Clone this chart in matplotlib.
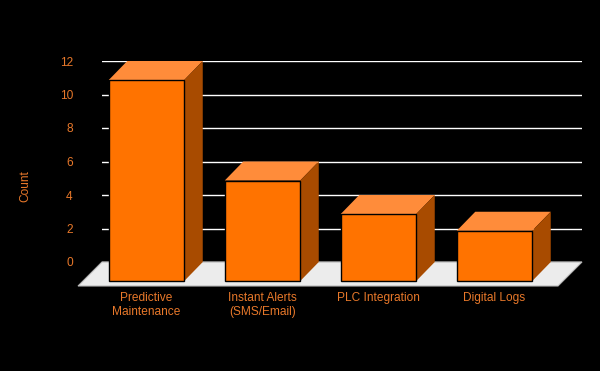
import matplotlib
matplotlib.use("Agg")
import matplotlib.pyplot as plt
from matplotlib.patches import Polygon, Rectangle

categories = ["Predictive\nMaintenance", "Instant Alerts\n(SMS/Email)", "PLC Integration", "Digital Logs"]
counts = [12, 6, 4, 3]
yticks = [0, 2, 4, 6, 8, 10, 12]

# colours
FRONT = "#ff7300"
TOP = "#ff8c3a"
SIDE = "#a84b00"
TEXT = "#e8782a"
FLOOR = "#ececec"

plt.rcParams["font.family"] = ["Liberation Sans", "DejaVu Sans"]

W, H = 600, 371
fig = plt.figure(figsize=(W / 100, H / 100), dpi=100, facecolor="black")

# back wall in pixels: x 102..582, y 262 (0) .. 61 (12)
left_px, right_px, bot_px, top_px = 102, 582, 262, 61
ax = fig.add_axes([left_px / W, 1 - bot_px / H, (right_px - left_px) / W, (bot_px - top_px) / H])
ax.set_facecolor("black")

step_px = 116.0          # distance between bar centres
first_px = 146.5         # centre of first bar front face
ux = step_px             # pixels per x unit
uy = (bot_px - top_px) / 12.0  # pixels per y unit
ax.set_xlim((left_px - first_px) / ux, (right_px - first_px) / ux)
ax.set_ylim(0, 12)

# 3D offsets (front face shifted left/down relative to back wall)
ox = 18.5 / ux
oy = 19.0 / uy
bw = 75.5 / ux
fx = 24.0 / ux
fy = 24.0 / uy

x0, x1 = ax.get_xlim()
floor = Polygon([(x0, 0), (x1, 0), (x1 - fx, -fy), (x0 - fx, -fy)],
                closed=True, facecolor=FLOOR, edgecolor="#b8b8b8", lw=0.8,
                clip_on=False, zorder=2)
ax.add_patch(floor)

for i, v in enumerate(counts):
    l, r = i - bw / 2, i + bw / 2
    top = Polygon([(l, v - oy), (r, v - oy), (r + ox, v), (l + ox, v)],
                  closed=True, facecolor=TOP, edgecolor="none", clip_on=False, zorder=3)
    side = Polygon([(r, -oy), (r, v - oy), (r + ox, v), (r + ox, 0)],
                   closed=True, facecolor=SIDE, edgecolor="none", clip_on=False, zorder=3)
    front = Rectangle((l, -oy), bw, v, facecolor=FRONT, edgecolor="black",
                      lw=1.0, clip_on=False, zorder=4)
    ax.add_patch(top)
    ax.add_patch(side)
    ax.add_patch(front)

ax.set_yticks(yticks)
ax.set_yticklabels([str(t) for t in yticks])
ax.yaxis.grid(True, color="white", lw=1.0)
ax.set_axisbelow(True)
ax.set_xticks(range(len(categories)))
ax.set_xticklabels(categories)
ax.tick_params(axis="y", length=0, pad=21, labelcolor=TEXT, labelsize=8.6)
ax.tick_params(axis="x", length=0, pad=21.5, labelcolor=TEXT, labelsize=8.6)
for s in ax.spines.values():
    s.set_visible(False)

fig.text(25 / W, 1 - 186 / H, "Count", rotation=90, color=TEXT, fontsize=8.6,
         ha="center", va="center")

fig.savefig("out.png", dpi=100, facecolor="black")
